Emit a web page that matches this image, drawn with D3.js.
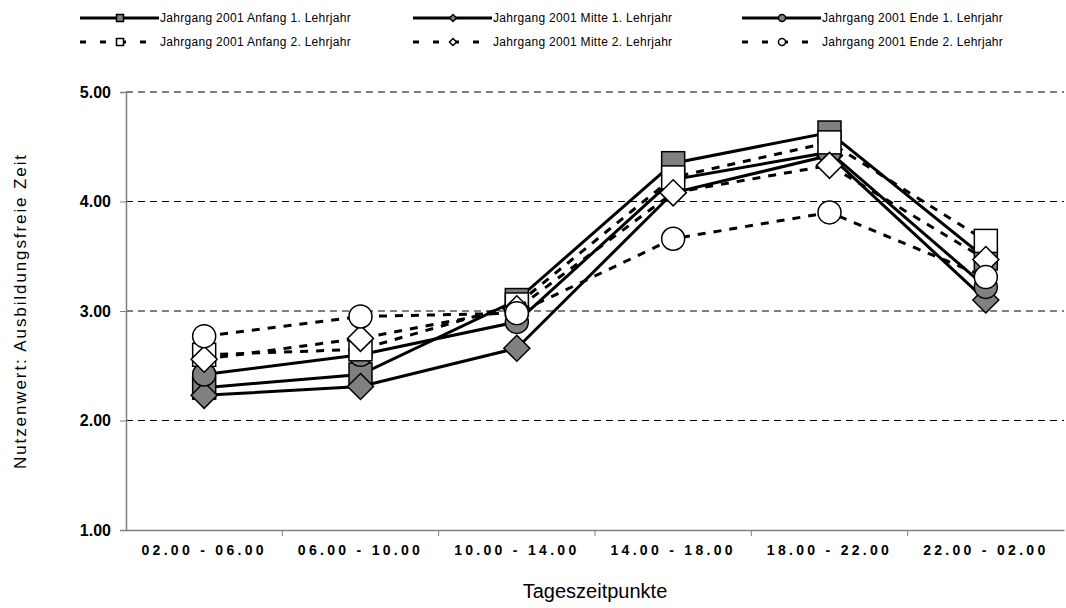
<!DOCTYPE html>
<html>
<head>
<meta charset="utf-8">
<script src="https://cdn.jsdelivr.net/npm/d3@7"></script>
<style>
  body { margin: 0; background: #fff; }
  text { font-family: "Liberation Sans", Arial, sans-serif; }
</style>
</head>
<body>
<div id="chart"></div>
<script>
// Nutzenwert per time slot, six cohorts
const categories = ["02.00 - 06.00", "06.00 - 10.00", "10.00 - 14.00", "14.00 - 18.00", "18.00 - 22.00", "22.00 - 02.00"];
const seriesNames = [
  "Jahrgang 2001 Anfang 1. Lehrjahr",
  "Jahrgang 2001 Mitte 1. Lehrjahr",
  "Jahrgang 2001 Ende 1. Lehrjahr",
  "Jahrgang 2001 Anfang 2. Lehrjahr",
  "Jahrgang 2001 Mitte 2. Lehrjahr",
  "Jahrgang 2001 Ende 2. Lehrjahr"
];
const anfang1 = [2.30, 2.42, 3.10, 4.35, 4.63, 3.48];
const mitte1 = [2.23, 2.31, 2.66, 4.08, 4.42, 3.10];
const ende1 = [2.42, 2.60, 2.90, 4.20, 4.45, 3.22];
const anfang2 = [2.60, 2.65, 3.06, 4.22, 4.54, 3.64];
const mitte2 = [2.56, 2.75, 3.02, 4.08, 4.33, 3.47];
const ende2 = [2.77, 2.95, 2.98, 3.66, 3.90, 3.31];
const yTicks = [1, 2, 3, 4, 5];

const w = 1066;
const h = 608;
const plotLeft = 126, plotRight = 1064, plotTop = 92, plotBottom = 530;

// marker shape + fill + dashed? per series
const styles = [
  { shape: "square", fill: "#808080", dash: null },
  { shape: "diamond", fill: "#808080", dash: null },
  { shape: "circle", fill: "#808080", dash: null },
  { shape: "square", fill: "#fff", dash: "8,8" },
  { shape: "diamond", fill: "#fff", dash: "8,8" },
  { shape: "circle", fill: "#fff", dash: "8,8" }
];
const allValues = [anfang1, mitte1, ende1, anfang2, mitte2, ende2];

const svg = d3.select("#chart").append("svg").attr("width", w).attr("height", h);

const xScale = d3.scaleBand().domain(categories).range([plotLeft, plotRight]);
const yScale = d3.scaleLinear().domain([1, 5]).range([plotBottom, plotTop]);
const cx = (c) => xScale(c) + xScale.bandwidth() / 2;

// grid lines
svg.append("g")
  .selectAll("line")
  .data(yTicks.filter((t) => t > 1))
  .enter()
  .append("line")
  .attr("x1", plotLeft)
  .attr("x2", plotRight)
  .attr("y1", (d) => yScale(d))
  .attr("y2", (d) => yScale(d))
  .attr("stroke", "#000")
  .attr("stroke-width", 1)
  .attr("stroke-dasharray", "7,5");

// y axis
const yAxis = d3.axisLeft(yScale).tickValues(yTicks).tickFormat(d3.format(".2f")).tickSize(6).tickPadding(9);
const yG = svg.append("g").attr("transform", `translate(${plotLeft},0)`).call(yAxis);
yG.select(".domain").attr("stroke", "#808080").attr("stroke-width", 1.5);
yG.selectAll(".tick line").attr("stroke", "#808080");
yG.selectAll("text")
  .attr("font-size", 16)
  .attr("font-weight", "bold")
  .attr("fill", "#000")
  .style("font-family", "Liberation Sans, Arial, sans-serif");

// x axis
const xAxis = d3.axisBottom(xScale).tickSize(0).tickPadding(15);
const xG = svg.append("g").attr("transform", `translate(0,${plotBottom})`).call(xAxis);
xG.select(".domain").attr("stroke", "#808080").attr("stroke-width", 1.5);
xG.selectAll("text")
  .attr("font-size", 14)
  .attr("font-weight", "bold")
  .attr("fill", "#000")
  .attr("letter-spacing", "3.3px")
  .style("font-family", "Liberation Sans, Arial, sans-serif");
// boundary ticks between categories
svg.append("g")
  .selectAll("line")
  .data(categories.slice(1))
  .enter()
  .append("line")
  .attr("x1", (d) => xScale(d))
  .attr("x2", (d) => xScale(d))
  .attr("y1", plotBottom)
  .attr("y2", plotBottom + 6)
  .attr("stroke", "#808080");

// axis titles
svg.append("text")
  .attr("x", (plotLeft + plotRight) / 2)
  .attr("y", 598)
  .attr("text-anchor", "middle")
  .attr("font-size", 20)
  .text("Tageszeitpunkte");

svg.append("text")
  .attr("transform", `translate(26, ${(plotTop + plotBottom) / 2}) rotate(-90)`)
  .attr("text-anchor", "middle")
  .attr("font-size", 17)
  .attr("letter-spacing", "1.9px")
  .text("Nutzenwert: Ausbildungsfreie Zeit");

function drawMarker(g, shape, x, y, size, fill, sw) {
  const r = size / 2;
  if (shape === "square") {
    g.append("rect").attr("x", x - r).attr("y", y - r).attr("width", size).attr("height", size)
      .attr("fill", fill).attr("stroke", "#000").attr("stroke-width", sw);
  } else if (shape === "diamond") {
    g.append("path").attr("d", `M${x},${y - r}L${x + r},${y}L${x},${y + r}L${x - r},${y}Z`)
      .attr("fill", fill).attr("stroke", "#000").attr("stroke-width", sw);
  } else {
    g.append("circle").attr("cx", x).attr("cy", y).attr("r", r)
      .attr("fill", fill).attr("stroke", "#000").attr("stroke-width", sw);
  }
}

const line = d3.line().x((d, i) => cx(categories[i])).y((d) => yScale(d));

allValues.forEach((vals, s) => {
  const st = styles[s];
  const g = svg.append("g");
  g.append("path")
    .attr("d", line(vals))
    .attr("fill", "none")
    .attr("stroke", "#000")
    .attr("stroke-width", 3)
    .attr("stroke-dasharray", st.dash);
  vals.forEach((v, i) => {
    const size = st.shape === "diamond" ? 26 : 23;
    drawMarker(g, st.shape, cx(categories[i]), yScale(v), size, st.fill, 1.5);
  });
});

// legend
const legendCols = [160, 493, 822];
const legendRows = [18, 42];
seriesNames.forEach((name, s) => {
  const st = styles[s];
  const tx = legendCols[s % 3];
  const ty = legendRows[Math.floor(s / 3)];
  const g = svg.append("g");
  g.append("line")
    .attr("x1", tx - 80).attr("x2", tx - 1)
    .attr("y1", ty).attr("y2", ty)
    .attr("stroke", "#000").attr("stroke-width", 3)
    .attr("stroke-dasharray", st.dash ? "6,14" : null);
  drawMarker(g, st.shape, tx - 40, ty, 7, st.fill, 1.5);
  g.append("text")
    .attr("x", tx)
    .attr("y", ty + 4)
    .attr("font-size", 12)
    .attr("letter-spacing", "0.3px")
    .text(name);
});
</script>
</body>
</html>
